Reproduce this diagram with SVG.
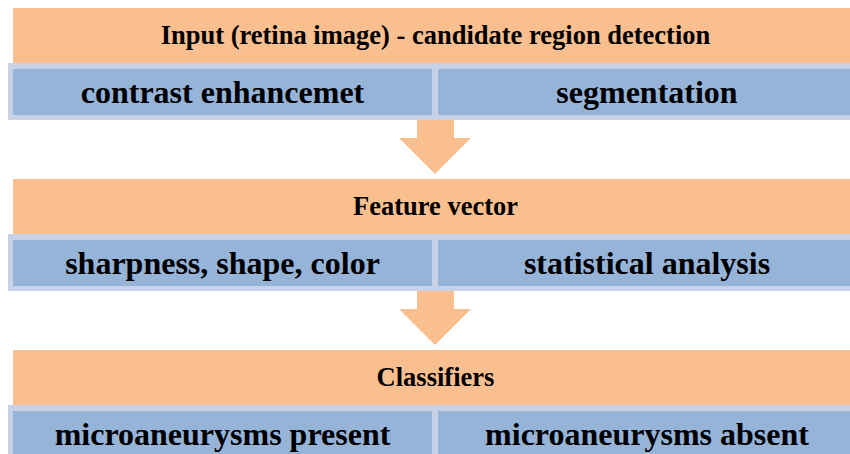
<svg xmlns="http://www.w3.org/2000/svg" width="850" height="454" viewBox="0 0 850 454">
<style>
.hdr{fill:#F9BF8F}
.frame{fill:#C7D2E7}
.cell{fill:#96B3D8}
.arrow{fill:#F9BF8F}
text{font-family:'Liberation Serif','DejaVu Serif',serif;font-weight:700;fill:#000;text-anchor:middle}
.t1{font-size:26.5px}
.t2{font-size:32px}
</style>
<rect width="850" height="454" fill="#fff"/>
<g id="stage1">
  <g id="header1"><rect class="hdr" x="13" y="8" width="845" height="55"/><text class="t1" x="435.5" y="44">Input (retina image) - candidate region detection</text></g>
  <rect class="frame" x="8" y="63" width="850" height="57"/>
  <g id="contrast"><rect class="cell" x="13" y="69" width="419" height="46"/><text class="t2" x="222.5" y="103">contrast enhancemet</text></g>
  <g id="segmentation"><rect class="cell" x="438" y="69" width="420" height="46"/><text class="t2" x="647" y="103">segmentation</text></g>
</g>
<g id="stage2">
  <g id="header2"><rect class="hdr" x="13" y="179" width="845" height="55"/><text class="t1" x="435.5" y="215">Feature vector</text></g>
  <rect class="frame" x="8" y="234" width="850" height="57"/>
  <g id="sharpness"><rect class="cell" x="13" y="240" width="419" height="46"/><text class="t2" x="222.5" y="274">sharpness, shape, color</text></g>
  <g id="statistical"><rect class="cell" x="438" y="240" width="420" height="46"/><text class="t2" x="647" y="274">statistical analysis</text></g>
</g>
<g id="stage3">
  <g id="header3"><rect class="hdr" x="13" y="350" width="845" height="55"/><text class="t1" x="435.5" y="386">Classifiers</text></g>
  <rect class="frame" x="8" y="405" width="850" height="57"/>
  <g id="present"><rect class="cell" x="13" y="411" width="419" height="46"/><text class="t2" x="222.5" y="445">microaneurysms present</text></g>
  <g id="absent"><rect class="cell" x="438" y="411" width="420" height="46"/><text class="t2" x="647" y="445">microaneurysms absent</text></g>
</g>
<g id="connectors">
  <polygon class="arrow" points="417,120 454,120 454,138 471,138 435,174 399,138 417,138"/>
  <polygon class="arrow" points="417,291 454,291 454,309 471,309 435,345 399,309 417,309"/>
</g>
</svg>
